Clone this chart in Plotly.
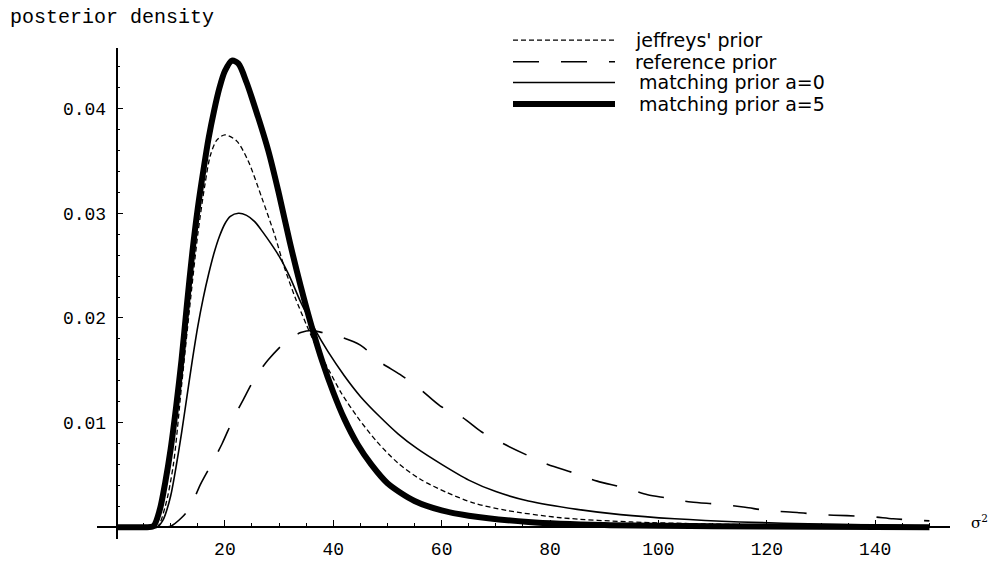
import plotly.graph_objects as go

# ---------------- data ----------------
x_a5 = [0, 5, 6.8, 8, 9, 10, 11, 12, 13, 14, 15, 16, 17, 18, 19, 20, 21.3, 22.5, 24, 25, 28, 30,
        32, 34, 36, 38, 40, 42, 44.5, 47, 50, 55, 60, 65, 76, 90, 110, 130, 150]
y_a5 = [0, 0, 0.0001, 0.0017, 0.0043, 0.0075, 0.0115, 0.016, 0.0213, 0.0263, 0.0305, 0.034, 0.0372,
        0.0398, 0.0420, 0.0436, 0.0446, 0.0443, 0.0425, 0.041, 0.036, 0.0318,
        0.0272, 0.023, 0.0192, 0.0158, 0.0129, 0.0104, 0.0079, 0.006, 0.0042, 0.0025, 0.0016,
        0.0011, 0.0005, 0.0002, 0.0001, 0.00005, 0.0]

x_a0 = [0, 5, 7.5, 8.5, 9, 10, 11, 12, 13, 14, 15, 16, 17, 18, 19, 20, 21, 22.5, 24, 25.5, 27,
        28.5, 30, 32, 34, 36.5, 39, 42, 45, 48.5, 52, 55.5, 60, 65, 70, 76, 85, 93, 103, 115,
        130, 150]
y_a0 = [0, 0, 0, 0.0006, 0.0012, 0.003, 0.0058, 0.009, 0.0125, 0.016, 0.0192, 0.0219, 0.0242,
        0.0262, 0.0278, 0.029, 0.0297, 0.0300, 0.0298, 0.0292, 0.0282, 0.0271, 0.0259, 0.0239,
        0.0215, 0.019, 0.0168, 0.0145, 0.0125, 0.0106, 0.0089, 0.0075, 0.006, 0.0045, 0.0034,
        0.0025, 0.0017, 0.0012, 0.0008, 0.0005, 0.0003, 0.0001]

x_jef = [0, 5, 7.5, 9, 10.5, 12, 13.5, 15, 16.3, 17.3, 18.5, 20, 22.2, 24.3, 26.8, 29.2, 31,
         33, 35, 37, 39.4, 41.5, 44.5, 48, 52, 56, 61, 66, 72, 82, 95, 110, 130, 150]
y_jef = [0, 0, 0, 0.002, 0.006, 0.0135, 0.021, 0.028, 0.0327, 0.0355, 0.037, 0.0375, 0.0369,
         0.035, 0.0315, 0.0279, 0.0248, 0.0219, 0.0194, 0.0171, 0.0148, 0.0128, 0.0105, 0.0082,
         0.0061, 0.0046, 0.0033, 0.0023, 0.0016, 0.0009, 0.0005, 0.0003, 0.0001, 0.00005]

x_ref = [0, 5, 8.5, 10, 12, 13.6, 15.4, 17.6, 19.5, 21.5, 23.4, 25.6, 28, 31.6, 34, 36, 38, 40.6,
         45, 48.6, 52.3, 56, 59.7, 63.8, 67.4, 71.3, 75.7, 79.6, 84.3, 88.7, 93.5, 98, 101.5,
         106, 111, 116, 120, 125.6, 129.8, 134.8, 139.4, 143.3, 150]
y_ref = [0, 0, 0, 0.0001, 0.0009, 0.0019, 0.004, 0.0061, 0.008, 0.0103, 0.0122, 0.0143, 0.016,
         0.0179, 0.0186, 0.0188, 0.0186, 0.0183, 0.0174, 0.0158, 0.0146, 0.0132, 0.0116, 0.0105,
         0.0091, 0.008, 0.0069, 0.006, 0.0052, 0.0044, 0.0038, 0.0031, 0.0028, 0.0024, 0.0022,
         0.0019, 0.0016, 0.0014, 0.0012, 0.0011, 0.001, 0.0008, 0.0006]

legend_labels = ["jeffreys' prior", "reference prior", "matching prior a=0", "matching prior a=5"]
x_tickvals = [20, 40, 60, 80, 100, 120, 140]
y_tickvals = [0.01, 0.02, 0.03, 0.04]
y_ticktext = ["0.01", "0.02", "0.03", "0.04"]

# ---------------- layout geometry ----------------
W, H = 1001, 572
L, R, T, B = 97, 950, 48, 547
XR = [-3.6, 153.8]
YR = [-0.00113, 0.0458]


def px2paper(px, py):
    return (px - L) / (R - L), (B - py) / (B - T)


styles = [
    dict(color="black", width=1.3, dash="5px,3px"),
    dict(color="black", width=1.6, dash="26px,22px"),
    dict(color="black", width=1.6),
    dict(color="black", width=6),
]

fig = go.Figure()
series = [(x_jef, y_jef), (x_ref, y_ref), (x_a0, y_a0), (x_a5, y_a5)]
for (xs, ys), st, name in zip(series, styles, legend_labels):
    fig.add_trace(go.Scatter(x=xs, y=ys, mode="lines", name=name,
                             line=dict(shape="spline", smoothing=0.8, **st),
                             showlegend=False, hoverinfo="skip"))

tickfont = dict(family="Liberation Mono, Courier New, monospace", size=18, color="black")

fig.update_layout(
    width=W, height=H,
    margin=dict(l=L, r=W - R, t=T, b=H - B, pad=0),
    paper_bgcolor="white", plot_bgcolor="white",
    xaxis=dict(range=XR, anchor="free", position=(0 - YR[0]) / (YR[1] - YR[0]),
               showgrid=False, zeroline=False, showline=True, linecolor="black", linewidth=1.5,
               ticks="inside", ticklen=6, tickwidth=1.3, tickcolor="black",
               tickmode="array", tickvals=x_tickvals, ticktext=[str(v) for v in x_tickvals],
               tickfont=tickfont, ticklabelstandoff=5,
               minor=dict(ticks="inside", ticklen=3, tickwidth=1, tickcolor="black",
                          tickmode="linear", tick0=0, dtick=5, showgrid=False)),
    yaxis=dict(range=YR, anchor="free", position=(0 - XR[0]) / (XR[1] - XR[0]),
               showgrid=False, zeroline=False, showline=True, linecolor="black", linewidth=1.5,
               ticks="inside", ticklen=6, tickwidth=1.3, tickcolor="black",
               tickmode="array", tickvals=y_tickvals, ticktext=y_ticktext,
               tickfont=tickfont, ticklabelstandoff=6,
               minor=dict(ticks="inside", ticklen=3, tickwidth=1, tickcolor="black",
                          tickmode="linear", tick0=0, dtick=0.002, showgrid=False)),
    showlegend=False,
)

# title at the top-left
tx, ty = px2paper(8, 17)
fig.add_annotation(x=tx, y=ty, xref="paper", yref="paper", xanchor="left", yanchor="middle",
                   text="posterior density", showarrow=False,
                   font=dict(family="Liberation Mono, Courier New, monospace", size=20, color="black"))

# sigma^2 axis label
sx, sy = px2paper(980, 530)
fig.add_annotation(x=sx, y=sy, xref="paper", yref="paper", xanchor="center", yanchor="middle",
                   text="σ<sup>2</sup>", showarrow=False,
                   font=dict(family="DejaVu Serif, serif", size=15, color="black"))

# manual legend
rows_py = [40, 62, 83, 105]
text_px = [633, 633, 637, 637]
for st, label, py, tpx in zip(styles, legend_labels, rows_py, text_px):
    x0, y0 = px2paper(513, py)
    x1, _ = px2paper(615, py)
    fig.add_shape(type="line", xref="paper", yref="paper", x0=x0, x1=x1, y0=y0, y1=y0,
                  line=st)
    ax, ay = px2paper(tpx, py)
    fig.add_annotation(x=ax, y=ay, xref="paper", yref="paper", xanchor="left", yanchor="middle",
                       text=label, showarrow=False,
                       font=dict(family="DejaVu Sans, sans-serif", size=19, color="black"))

fig.write_html("out.html", config={"displayModeBar": False},
               post_script="document.body.style.margin='0';")
